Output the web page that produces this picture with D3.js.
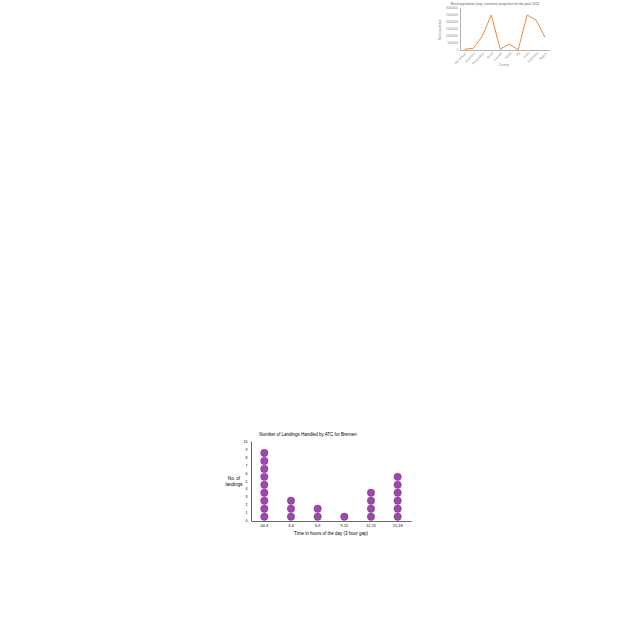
<!DOCTYPE html>
<html>
<head>
<meta charset="utf-8">
<script src="https://cdn.jsdelivr.net/npm/d3@7"></script>
<style>
  html, body { margin: 0; padding: 0; background: #fff; }
  svg { display: block; font-family: "Liberation Sans", "DejaVu Sans", sans-serif; }
</style>
</head>
<body>
<svg id="chart" width="640" height="640"></svg>
<script>
// ---- Top chart: rural population line ----
const countries = ["Afghanistan","Argentina","Bangladesh","Brazil","Canada","Egypt","Fiji","India","Indonesia","Nigeria"];
const ruralPop = [500000, 1200000, 9900000, 24600000, 500000, 4200000, 100000, 24600000, 21100000, 8900000];
const popTicks = [0, 5000000, 10000000, 15000000, 20000000, 25000000, 30000000];

// ---- Bottom chart: dot plot of landings ----
const timeSlots = ["00-3", "3-6", "6-9", "9-12", "12-15", "15-18"];
const landings = [9, 3, 2, 1, 4, 6];
const landingTicks = [0, 1, 2, 3, 4, 5, 6, 7, 8, 9, 10];

const svg = d3.select("#chart");

// ================= Top line chart =================
{
  const g = svg.append("g");
  const x = d3.scaleBand().domain(countries).range([460, 549.5]);
  const y = d3.scaleLinear().domain([0, 30000000]).range([50, 7.3]);

  g.append("text").attr("x", 495).attr("y", 5).attr("text-anchor", "middle")
    .attr("font-size", 3.3).attr("fill", "#595959")
    .text("Rural population (avg. countries) projection for the year 2025");

  const yAx = g.append("g").attr("transform", "translate(460,0)")
    .call(d3.axisLeft(y).tickValues(popTicks).tickSize(0).tickPadding(2).tickFormat(d3.format("d")));
  yAx.select(".domain").attr("stroke", "#7f7f7f").attr("stroke-width", 0.6);
  yAx.selectAll("text").attr("font-size", 2.7).attr("fill", "#7f7f7f").attr("font-family", "Liberation Sans");

  const xAx = g.append("g").attr("transform", "translate(0,50)")
    .call(d3.axisBottom(x).tickSize(0).tickPadding(2));
  xAx.select(".domain").attr("stroke", "#7f7f7f").attr("stroke-width", 0.6);
  xAx.selectAll("text").attr("font-size", 3.1).attr("fill", "#7f7f7f").attr("font-family", "Liberation Sans")
    .attr("text-anchor", "end").attr("dy", "0.35em").attr("y", 0).attr("x", 0)
    .attr("transform", "translate(1.5,2.5) rotate(-45)");

  g.append("text").attr("transform", "translate(441,30) rotate(-90)").attr("text-anchor", "middle")
    .attr("font-size", 2.8).attr("fill", "#7f7f7f").text("Rural population");
  g.append("text").attr("x", 504).attr("y", 66).attr("text-anchor", "middle")
    .attr("font-size", 2.8).attr("fill", "#7f7f7f").text("Country");

  const line = d3.line().x((d, i) => x(countries[i]) + x.bandwidth() / 2).y(d => y(d));
  g.append("path").datum(ruralPop).attr("d", line)
    .attr("fill", "none").attr("stroke", "#EB8A3F").attr("stroke-width", 1).attr("stroke-linejoin", "round");
}

// ================= Bottom dot plot =================
{
  const g = svg.append("g");
  const x = d3.scaleBand().domain(timeSlots).range([251, 411]);
  const y = d3.scaleLinear().domain([0, 10]).range([520.7, 441]);

  g.append("text").attr("x", 308).attr("y", 435.5).attr("text-anchor", "middle")
    .attr("font-size", 4.5).attr("fill", "#000")
    .text("Number of Landings Handled by ATC for Bremen");

  const yAx = g.append("g").attr("transform", "translate(251,0)")
    .call(d3.axisLeft(y).tickValues(landingTicks).tickSize(0).tickPadding(3.5));
  yAx.select(".domain").attr("stroke", "#404040").attr("stroke-width", 0.8);
  yAx.selectAll("text").attr("font-size", 3.6).attr("fill", "#000").attr("font-family", "Liberation Sans");

  const xAx = g.append("g").attr("transform", "translate(0,521)")
    .call(d3.axisBottom(x).tickSize(0).tickPadding(3.5));
  xAx.select(".domain").attr("stroke", "#404040").attr("stroke-width", 0.8);
  xAx.selectAll("text").attr("font-size", 3.8).attr("fill", "#000").attr("font-family", "Liberation Sans");

  const yt = g.append("text").attr("text-anchor", "middle").attr("font-size", 4.6).attr("fill", "#000");
  yt.append("tspan").attr("x", 234).attr("y", 480).text("No. of");
  yt.append("tspan").attr("x", 234).attr("y", 486).text("landings");

  g.append("text").attr("x", 331).attr("y", 534.5).attr("text-anchor", "middle")
    .attr("font-size", 4.5).attr("fill", "#000")
    .text("Time in hours of the day (3 hour gap)");

  const dots = [];
  timeSlots.forEach((s, i) => {
    for (let k = 0; k < landings[i]; k++) dots.push({ slot: s, level: k + 0.5 });
  });
  g.selectAll("circle.dot").data(dots).enter().append("circle").attr("class", "dot")
    .attr("cx", d => x(d.slot) + x.bandwidth() / 2)
    .attr("cy", d => y(d.level))
    .attr("r", 3.7)
    .attr("fill", "#9E48AE").attr("stroke", "#7B2C8C").attr("stroke-width", 0.5);
}
</script>
</body>
</html>
